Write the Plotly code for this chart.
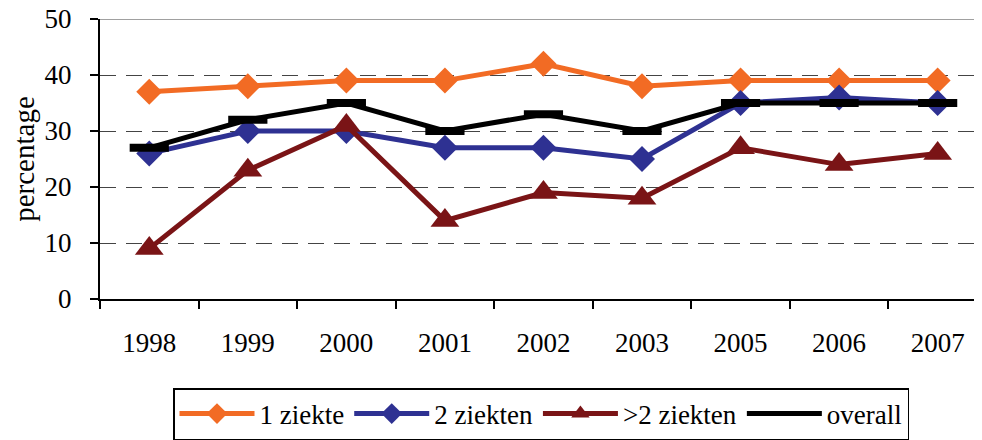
import plotly.graph_objects as go

# years on the x axis (no 2004 in the survey)
years = ["1998", "1999", "2000", "2001", "2002", "2003", "2005", "2006", "2007"]

# percentages per group
een_ziekte = [37, 38, 39, 39, 42, 38, 39, 39, 39]
twee_ziekten = [26, 30, 30, 27, 27, 25, 35, 36, 35]
meer_ziekten = [9, 23, 31, 14, 19, 18, 27, 24, 26]
overall = [27, 32, 35, 30, 33, 30, 35, 35, 35]

font_fam = "Liberation Serif"

plot0 = go.Scatter(x=years, y=een_ziekte, name="1 ziekte", mode="lines+markers",
                   line=dict(color="#F26B24", width=5),
                   marker=dict(symbol="diamond", size=20, color="#F26B24"))
plot1 = go.Scatter(x=years, y=twee_ziekten, name="2 ziekten", mode="lines+markers",
                   line=dict(color="#2E3192", width=5),
                   marker=dict(symbol="diamond", size=20, color="#2E3192"))
plot2 = go.Scatter(x=years, y=meer_ziekten, name=">2 ziekten", mode="lines+markers",
                   line=dict(color="#7A1416", width=5),
                   marker=dict(symbol="triangle-up", size=25, color="#7A1416"))
plot3 = go.Scatter(x=years, y=overall, name="overall", mode="lines+markers",
                   line=dict(color="black", width=5),
                   marker=dict(symbol="line-ew", size=28,
                               line=dict(color="black", width=8)))

fig = go.Figure(data=[plot0, plot1, plot2, plot3])

# the page body adds an 8px margin, so the figure is a bit smaller than the window
fig.update_layout(
  width=974, height=432,
  margin=dict(l=92, r=0, t=11, b=140),
  plot_bgcolor="white", paper_bgcolor="white",
  font=dict(family=font_fam, size=27, color="black"),
  showlegend=True,
  legend=dict(orientation="h", x=0.5, xanchor="center", y=-0.317, yanchor="top",
              bordercolor="black", borderwidth=1.5, font=dict(size=27),
              itemwidth=75, tracegroupgap=0),
)

fig.update_xaxes(
  type="category", range=[-0.5, 8.45], automargin=False,
  showline=True, linecolor="black", linewidth=2,
  ticks="outside", tickson="boundaries", ticklen=8, tickwidth=2, tickcolor="black",
  ticklabelstandoff=19, ticklabeloverflow="allow",
  showgrid=False, zeroline=False,
)
fig.update_yaxes(
  range=[0, 50], tickvals=[0, 10, 20, 30, 40, 50], automargin=False,
  showline=True, linecolor="black", linewidth=2,
  ticks="outside", ticklen=8, tickwidth=2, tickcolor="black",
  ticklabelstandoff=13, ticklabeloverflow="allow",
  showgrid=True, gridcolor="#444444", gridwidth=1, griddash="16px,10px",
  zeroline=False,
  title=dict(text="percentage", standoff=13, font=dict(size=29)),
)

# grey top border of the plot area
fig.add_shape(type="line", xref="paper", yref="y", x0=0, x1=1, y0=50, y1=50,
              line=dict(color="#A0A0A0", width=2))

fig.write_html("out.html")
